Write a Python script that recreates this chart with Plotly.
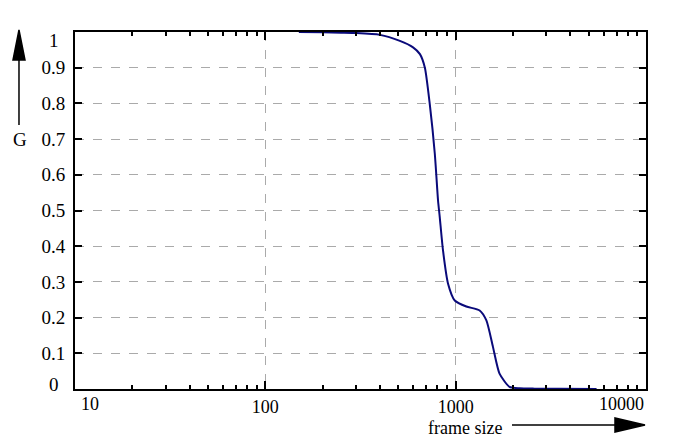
import plotly.graph_objects as go

# curve
frame_size = [150, 200, 250, 300, 400, 509, 597, 649, 689, 731, 777, 808, 825,
              858, 912, 989, 1138, 1337, 1450, 1570, 1700, 1918, 2165, 2600,
              3500, 5500]
G = [1.0, 0.999, 0.998, 0.997, 0.992, 0.975, 0.957, 0.938, 0.90, 0.798, 0.659,
     0.528, 0.481, 0.388, 0.295, 0.248, 0.231, 0.220, 0.192, 0.118, 0.043,
     0.006, 0.002, 0.001, 0.0005, 0.0]

x_major = [100, 1000]
x_minor = [20, 30, 40, 50, 60, 70, 80, 90,
           200, 300, 400, 500, 600, 700, 800, 900,
           2000, 3000, 4000, 5000, 6000, 7000, 8000, 9000]
y_ticks = [0.1, 0.2, 0.3, 0.4, 0.5, 0.6, 0.7, 0.8, 0.9]
y_labels = ['0.1', '0.2', '0.3', '0.4', '0.5', '0.6', '0.7', '0.8', '0.9']

font = dict(family='Liberation Serif', size=19, color='black')
small = dict(family='Liberation Serif', size=18, color='black')

fig = go.Figure()
fig.add_trace(go.Scatter(x=frame_size, y=G, mode='lines',
                         line=dict(color='#0a0a7a', width=2, shape='spline', smoothing=0.6),
                         showlegend=False))

fig.update_xaxes(type='log', range=[1, 4],
                 tickvals=x_major, ticktext=[str(v) for v in x_major],
                 ticks='inside', ticklen=8, tickwidth=2, tickcolor='black',
                 minor=dict(tickvals=x_minor, ticks='inside', ticklen=4,
                            tickwidth=1.5, tickcolor='black', showgrid=False),
                 showline=True, linecolor='black', linewidth=2, mirror='ticks',
                 showgrid=True, gridcolor='#aaaaaa', griddash='dash', gridwidth=1,
                 zeroline=False, tickfont=small)
fig.update_yaxes(range=[0, 1],
                 tickvals=y_ticks, ticktext=y_labels,
                 ticks='inside', ticklen=7, tickwidth=2, tickcolor='black',
                 showline=True, linecolor='black', linewidth=2, mirror='ticks',
                 showgrid=True, gridcolor='#aaaaaa', griddash='dash', gridwidth=1,
                 zeroline=False, tickfont=font, ticklabelstandoff=4)

# end labels shifted inside, like the original
fig.add_annotation(x=1, y=0, xref='x', yref='paper', text='10', showarrow=False,
                   xanchor='left', yanchor='top', xshift=4, yshift=-3, font=small)
fig.add_annotation(x=4, y=0, xref='x', yref='paper', text='10000', showarrow=False,
                   xanchor='right', yanchor='top', yshift=-3, font=small)
fig.add_annotation(x=0, y=1, xref='paper', yref='y', text='1', showarrow=False,
                   xanchor='right', yanchor='top', xshift=-14, yshift=4, font=font)
fig.add_annotation(x=0, y=0, xref='paper', yref='y', text='0', showarrow=False,
                   xanchor='right', yanchor='bottom', xshift=-14, yshift=-8, font=font)

# axis labels
fig.add_annotation(x=-0.0963, y=0.6975, xref='paper', yref='paper', text='G',
                   showarrow=False, xanchor='center', yanchor='middle', font=font)
fig.add_annotation(x=0.683, y=-0.1092, xref='paper', yref='paper', text='frame size',
                   showarrow=False, xanchor='center', yanchor='middle', font=small)

# arrows drawn as shapes
arrow = dict(xref='paper', yref='paper', line=dict(color='black', width=1.5))
fig.add_shape(type='line', x0=-0.0981, y0=0.7395, x1=-0.0981, y1=0.93, **arrow)
fig.add_shape(type='path', path='M -0.1086 0.9216 L -0.0876 0.9216 L -0.0981 1.0056 Z',
              fillcolor='black', **arrow)
fig.add_shape(type='line', x0=0.7653, y0=-0.1008, x1=0.95, y1=-0.1008, **arrow)
fig.add_shape(type='path', path='M 0.9457 -0.0812 L 0.9457 -0.1204 L 0.9982 -0.1008 Z',
              fillcolor='black', **arrow)

# page body has an 8px margin, so the figure is shifted by that much
fig.update_layout(width=686, height=437,
                  margin=dict(l=67, r=48, t=24, b=56),
                  plot_bgcolor='white', paper_bgcolor='white',
                  font=font)

fig.write_html("out.html")
